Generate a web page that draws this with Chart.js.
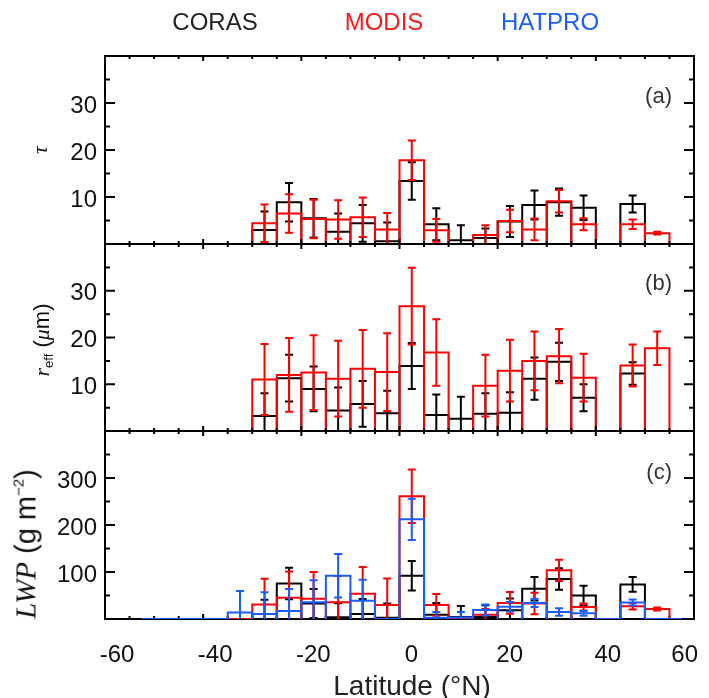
<!DOCTYPE html>
<html>
<head>
<meta charset="utf-8">
<title>CORAS / MODIS / HATPRO cloud properties by latitude</title>
<script src="https://cdn.jsdelivr.net/npm/chart.js@4.4.0/dist/chart.umd.min.js"></script>
<style>
  html, body { margin: 0; padding: 0; background: #fff; }
  #fig { position: relative; width: 709px; height: 698px; overflow: hidden;
         font-family: "Liberation Sans", Arial, Helvetica, sans-serif; color: #111; }
  #fig canvas { position: absolute; left: 0; top: 0; }
  .legend { position: absolute; top: 22px; font-size: 24px; transform: translate(-50%, -50%); white-space: nowrap; }
  .ytitle { position: absolute; white-space: nowrap; font-size: 22px;
            transform: translate(-50%, -50%) rotate(-90deg); }
  .xtitle { position: absolute; white-space: nowrap; font-size: 28px; color: #222;
            transform: translate(-50%, -50%); }
  .it { font-family: "Liberation Serif", "Times New Roman", serif; font-style: italic; }
  .ytitle sub { font-size: 13px; vertical-align: -4px; }
  .ytitle sup { font-size: 15px; vertical-align: 12px; }
  .tag { position: absolute; font-size: 22px; color: #333; transform: translate(-100%, -50%); }
</style>
</head>
<body>
<div id="fig">
  <canvas id="panelA" width="709" height="698"></canvas>
  <canvas id="panelB" width="709" height="698"></canvas>
  <canvas id="panelC" width="709" height="698"></canvas>

  <div class="legend" style="left:215px;color:#222">CORAS</div>
  <div class="legend" style="left:384px;color:#ff1a1a">MODIS</div>
  <div class="legend" style="left:550px;color:#1a5cff">HATPRO</div>

  <div class="ytitle" style="left:40px;top:150px"><span class="it">τ</span></div>
  <div class="ytitle" style="left:42px;top:340px"><span class="it">r</span><sub>eff</sub> (<span class="it">μ</span>m)</div>
  <div class="ytitle" style="left:26px;top:544px;font-size:29px"><span class="it">LWP</span> (g m<sup>−2</sup>)</div>
  <div class="xtitle" style="left:412px;top:686px">Latitude (°N)</div>

  <div class="tag" style="left:672px;top:96px">(a)</div>
  <div class="tag" style="left:672px;top:283px">(b)</div>
  <div class="tag" style="left:672px;top:472px">(c)</div>
</div>

<script>
// ---- latitude bins (centres, °N) and axis tick labels ----
const latCenters = [-52.5, -47.5, -42.5, -37.5, -32.5, -27.5, -22.5, -17.5, -12.5, -7.5, -2.5,
                    2.5, 7.5, 12.5, 17.5, 22.5, 27.5, 32.5, 37.5, 42.5, 47.5, 52.5, 57.5];
const binWidth = 5;
const latTicks = [-60, -40, -20, 0, 20, 40, 60];
const tauTicks = [10, 20, 30];
const reffTicks = [10, 20, 30];
const lwpTicks = [100, 200, 300];

// ---- (a) cloud optical thickness ----
const corasTau    = [0,0,0,0,0, 3.0, 8.9, 5.5, 2.6, 4.4, 0.6, 13.4, 4.2, 0.8, 1.3, 4.8, 8.3, 8.9, 7.7, 0, 8.5, 0, 0];
const corasTauErr = [null,null,null,null,null, 3.9, 4.1, 4.1, 3.9, 3.9, 4.0, 4.0, 3.4, 3.2, 2.0, 3.3, 3.1, 2.9, 2.6, null, 1.8, null, null];
const modisTau    = [0,0,0,0,0, 4.4, 6.5, 5.3, 5.2, 5.7, 3.1, 17.8, 2.9, 0, 1.9, 4.9, 3.1, 9.1, 4.2, 0, 4.2, 2.3, 0];
const modisTauErr = [null,null,null,null,null, 4.0, 4.1, 4.1, 4.1, 4.2, 3.5, 4.2, 2.4, null, 2.1, 2.4, 2.3, 2.4, 1.3, null, 1.0, 0.3, null];

// ---- (b) effective radius ----
const corasReff    = [0,0,0,0,0, 3.2, 11.3, 9.0, 4.4, 5.8, 3.8, 13.9, 3.4, 2.6, 3.7, 3.9, 11.2, 14.8, 7.1, 0, 12.3, 0, 0];
const corasReffErr = [null,null,null,null,null, 4.9, 5.0, 4.8, 4.9, 4.9, 4.8, 4.9, 4.4, 4.7, 4.4, 4.4, 4.5, 4.1, 2.9, null, 2.4, null, null];
const modisReff    = [0,0,0,0,0, 11.0, 12.0, 12.5, 11.2, 13.3, 12.6, 26.7, 16.8, 0, 9.7, 12.9, 15.0, 16.0, 11.4, 0, 14.0, 17.7, 0];
const modisReffErr = [null,null,null,null,null, 7.6, 7.9, 8.0, 8.1, 8.3, 8.3, 8.2, 7.1, null, 6.6, 6.6, 6.3, 5.8, 5.1, null, 4.5, 3.6, null];

// ---- (c) liquid water path ----
const corasLwp     = [0,0,0,0,0, 10.7, 75.7, 32.9, 3.6, 10.7, 2.9, 92, 9.3, 4.3, 4.3, 18.6, 64.3, 85, 50, 0, 73.6, 0, 0];
const corasLwpErr  = [null,null,null,null,null, 30, 33.5, 31, 30, 32, 30, 31.5, 25, 23.6, 25, 25, 25, 23, 20.5, null, 15.7, null, null];
const modisLwp     = [0,0,0,0,0, 30.7, 45, 42.9, 35.7, 53.6, 30, 261, 30, 0, 9.3, 34.3, 33, 103.6, 25.7, 0, 27, 21.4, 0];
const modisLwpErr  = [null,null,null,null,null, 55, 56, 57, 56, 57, 56, 57, 23, null, 12, 23, 23, 22.5, 7.5, null, 7, 3.2, null];
const hatproLwp    = [0,0,0,0, 13.6, 10.7, 17, 35.7, 92, 38.6, 0, 212, 2.9, 3.0, 19.3, 26, 34.3, 15, 12, 0, 35, 0, 0];
const hatproLwpErr = [null,null,null,null, 46, 46, 47, 47, 46.5, 45, null, 44, 12, 12, 11.8, 10, 9, 8, 5, null, 6.4, null, null];

const COLORS = { coras: '#000000', modis: '#ff0000', hatpro: '#1a5cff' };
const FONT_FAMILY = '"Liberation Sans", Arial, Helvetica, sans-serif';
const TICK_FONT = { family: FONT_FAMILY, size: 24 };

// Outline of a step histogram: a closed box per non-empty bin, joined along zero.
function histOutline(values) {
  const pts = [{ x: latCenters[0], y: 0 }];
  values.forEach((v, i) => {
    if (!v) return;
    const lo = latCenters[i] - binWidth / 2, hi = latCenters[i] + binWidth / 2;
    pts.push({ x: lo, y: 0 }, { x: lo, y: v }, { x: hi, y: v }, { x: hi, y: 0 });
  });
  pts.push({ x: latCenters[latCenters.length - 1], y: 0 });
  return pts;
}

// drawOrder: later series are painted on top of earlier ones
function series(label, values, errors, color, drawOrder) {
  return {
    label, values, errors,
    data: histOutline(values),
    order: -drawOrder,
    borderColor: color, borderWidth: 2, pointRadius: 0, tension: 0,
    fill: false, borderJoinStyle: 'miter'
  };
}

// Vertical error bars with caps, drawn right after their own series.
const errorBars = {
  id: 'errorBars',
  afterDatasetDraw(chart, args) {
    const ds = chart.data.datasets[args.index];
    if (!ds.errors) return;
    const { ctx, chartArea: a, scales: { x, y } } = chart;
    ctx.save();
    ctx.beginPath();
    ctx.rect(a.left, a.top - 1, a.right - a.left, a.bottom - a.top + 1);
    ctx.clip();
    ctx.strokeStyle = ds.borderColor;
    ctx.lineWidth = 2;
    ds.values.forEach((v, i) => {
      const e = ds.errors[i];
      if (!v || e == null) return;
      const px = x.getPixelForValue(latCenters[i]);
      const yt = y.getPixelForValue(v + e), yb = y.getPixelForValue(v - e);
      ctx.beginPath();
      ctx.moveTo(px, yt); ctx.lineTo(px, yb);
      ctx.moveTo(px - 4, yt); ctx.lineTo(px + 4, yt);
      ctx.moveTo(px - 4, yb); ctx.lineTo(px + 4, yb);
      ctx.stroke();
    });
    ctx.restore();
  }
};

// Box frame with inward major/minor ticks on all four sides.
function drawFrame(chart, o) {
  const { ctx, chartArea: a, scales: { x, y } } = chart;
  ctx.save();
  ctx.strokeStyle = '#000';
  ctx.lineWidth = 2;
  ctx.beginPath();
  for (let v = x.min; v <= x.max + 1e-9; v += o.xMinor) {
    const px = x.getPixelForValue(v);
    const len = Math.abs(v % o.xMajor) < 1e-9 ? 5 : 3;
    ctx.moveTo(px, a.top); ctx.lineTo(px, a.top + len);
    ctx.moveTo(px, a.bottom); ctx.lineTo(px, a.bottom - len);
  }
  for (let v = y.min; v <= y.max + 1e-9; v += o.yMinor) {
    const py = y.getPixelForValue(v);
    const len = Math.abs(v % o.yMajor) < 1e-9 ? 10 : 5;
    ctx.moveTo(a.left, py); ctx.lineTo(a.left + len, py);
    ctx.moveTo(a.right, py); ctx.lineTo(a.right - len, py);
  }
  ctx.stroke();
  ctx.strokeRect(a.left, a.top, a.right - a.left, a.bottom - a.top);
  ctx.restore();
}

// Latitude labels under the bottom panel, nudged right and kept inside the figure.
function drawLatLabels(chart, o) {
  const { ctx, chartArea: a, scales: { x } } = chart;
  ctx.save();
  ctx.font = `${TICK_FONT.size}px ${FONT_FAMILY}`;
  ctx.fillStyle = '#111';
  ctx.textAlign = 'center';
  ctx.textBaseline = 'middle';
  latTicks.forEach(v => {
    const w = ctx.measureText(String(v)).width;
    let cx = x.getPixelForValue(v) + o.labelShift;
    cx = Math.min(cx, o.labelMaxRight - w / 2);
    ctx.fillText(String(v), cx, a.bottom + o.labelGap);
  });
  ctx.restore();
}

const frameTicks = {
  id: 'frameTicks',
  beforeDatasetsDraw(chart, args, o) { if (!o.onTop) drawFrame(chart, o); },
  afterDatasetsDraw(chart, args, o) { if (o.onTop) drawFrame(chart, o); },
  afterDraw(chart, args, o) { if (o.latLabels) drawLatLabels(chart, o); }
};

const W = 709, H = 698, PLOT_LEFT = 105, PLOT_RIGHT = 694;

function noEdgePadding(s) {
  s.paddingLeft = 0; s.paddingRight = 0; s.paddingTop = 0; s.paddingBottom = 0;
}

function makePanel(canvasId, p) {
  return new Chart(document.getElementById(canvasId), {
    type: 'line',
    data: { datasets: p.datasets },
    options: {
      responsive: false, animation: false, devicePixelRatio: 1,
      layout: { padding: { top: p.top, bottom: H - p.bottom, left: 0, right: W - PLOT_RIGHT } },
      plugins: {
        legend: { display: false }, tooltip: { enabled: false },
        frameTicks: {
          xMinor: 5, xMajor: 20, yMinor: p.yMinor, yMajor: p.yMajor, onTop: p.frameOnTop,
          latLabels: p.bottomAxis, labelShift: 12, labelGap: 36, labelMaxRight: 698
        }
      },
      scales: {
        x: {
          type: 'linear', min: -60, max: 60, display: false,
          afterBuildTicks: s => { s.ticks = latTicks.map(v => ({ value: v })); }
        },
        y: {
          type: 'linear', min: 0, max: p.yMax,
          grid: { display: false, drawTicks: false }, border: { display: false },
          ticks: { font: TICK_FONT, color: '#111', padding: 8, labelOffset: 3 },
          afterBuildTicks: s => { s.ticks = p.yTicks.map(v => ({ value: v })); },
          afterFit: s => { noEdgePadding(s); s.width = PLOT_LEFT; }
        }
      }
    },
    plugins: [frameTicks, errorBars]
  });
}

makePanel('panelA', {
  top: 56, bottom: 244, yMax: 40, yMajor: 10, yMinor: 5, yTicks: tauTicks,
  frameOnTop: true, bottomAxis: false,
  datasets: [
    series('CORAS', corasTau, corasTauErr, COLORS.coras, 1),
    series('MODIS', modisTau, modisTauErr, COLORS.modis, 2)
  ]
});

makePanel('panelB', {
  top: 244, bottom: 431, yMax: 40, yMajor: 10, yMinor: 5, yTicks: reffTicks,
  frameOnTop: true, bottomAxis: false,
  datasets: [
    series('CORAS', corasReff, corasReffErr, COLORS.coras, 1),
    series('MODIS', modisReff, modisReffErr, COLORS.modis, 2)
  ]
});

makePanel('panelC', {
  top: 431, bottom: 619, yMax: 400, yMajor: 100, yMinor: 50, yTicks: lwpTicks,
  frameOnTop: false, bottomAxis: true,
  datasets: [
    series('CORAS', corasLwp, corasLwpErr, COLORS.coras, 1),
    series('MODIS', modisLwp, modisLwpErr, COLORS.modis, 2),
    series('HATPRO', hatproLwp, hatproLwpErr, COLORS.hatpro, 3)
  ]
});
</script>
</body>
</html>
